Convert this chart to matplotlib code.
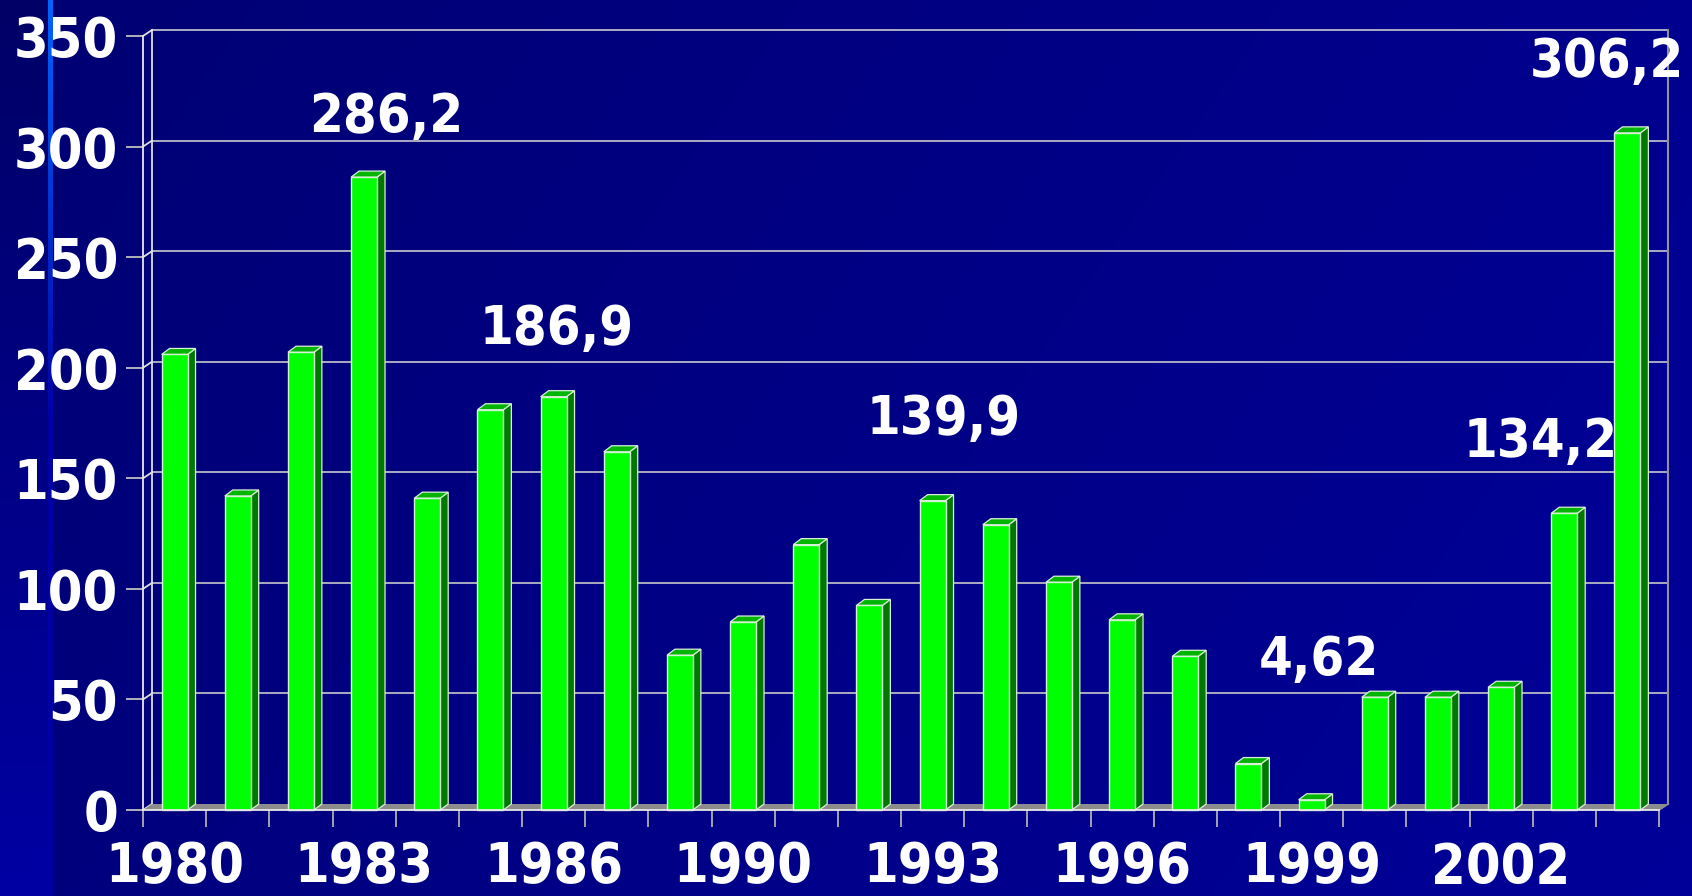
import matplotlib
matplotlib.use("Agg")
import matplotlib.pyplot as plt
from matplotlib.patches import Rectangle, Polygon
import numpy as np

# data
years = [1980, 1981, 1982, 1983, 1984, 1985, 1986, 1987,
         1989, 1990, 1991, 1992, 1993, 1994, 1995, 1996,
         1997, 1998, 1999, 2000, 2001, 2002, 2003, 2004]
values = [206, 142, 207, 286.2, 141, 181, 186.9, 162,
          70, 85, 120, 92.5, 139.9, 129, 103, 86,
          69.5, 21, 4.62, 51, 51, 55.5, 134.2, 306.2]
labelled = [3, 6, 12, 18, 22, 23]
label_texts = ["286,2", "186,9", "139,9", "4,62", "134,2", "306,2"]
label_offsets = [(22, 60), (3, 68), (11, 82), (7, 140), (-24, 71), (-20, 71)]  # pixels
yticks = [0, 50, 100, 150, 200, 250, 300, 350]

W, H, DPI = 1692, 896, 100
FONT = dict(family="DejaVu Sans", fontstretch="condensed", fontweight="bold")
fig = plt.figure(figsize=(W / DPI, H / DPI), dpi=DPI)

# background gradient
bg = fig.add_axes([0, 0, 1, 1], zorder=-10)
yy, xx = np.mgrid[0:H, 0:W]
img = np.zeros((H, W, 3))
img[..., 2] = 0.45 + 0.11 * (xx / W) + 0.04 * (yy / H)
strip = xx < 48
img[..., 2][strip] = (0.40 + 0.24 * (yy / H))[strip]
line = (xx >= 48) & (xx < 53)
t = np.clip(yy / 420.0, 0, 1)
img[..., 1][line] = (0.40 * (1 - t))[line]
img[..., 2][line] = (1.0 - 0.35 * t)[line]
bg.imshow(img, aspect="auto", extent=[0, W, H, 0])
bg.axis("off")

left, right, top, bottom = 143, 1659, 36, 810
ax = fig.add_axes([left / W, (H - bottom) / H, (right - left) / W, (bottom - top) / H])
ax.set_facecolor("none")
n = len(values)
ax.set_xlim(-0.5, n - 0.5)
ax.set_ylim(0, 350)

# pixel -> data conversions for the 3d offsets
px_x = n / (right - left)
px_y = 350 / (bottom - top)
wdx, wdy = 9 * px_x, 6 * px_y     # back wall offset
bdx, bdy = 8 * px_x, 6 * px_y     # bar depth

grid_c = "#B8B8C8"
x0, x1 = -0.5, n - 0.5
# floor
ax.add_patch(Polygon([(x0, 0), (x1, 0), (x1 + wdx, wdy), (x0 + wdx, wdy)],
                     closed=True, facecolor="#8C8C8C", edgecolor="none",
                     zorder=1, clip_on=False))
# back wall grid
for v in yticks[1:]:
    ax.plot([x0 + wdx, x1 + wdx], [v + wdy, v + wdy], color=grid_c, lw=1.3,
            zorder=0.5, clip_on=False)
for v in yticks:
    ax.plot([x0, x0 + wdx], [v, v + wdy], color="#E0E0E0", lw=1.3,
            zorder=0.5, clip_on=False)
ax.plot([x0 + wdx, x0 + wdx], [wdy, 350 + wdy], color="#E0E0E0", lw=1.3,
        zorder=0.5, clip_on=False)
ax.plot([x1 + wdx, x1 + wdx], [wdy, 350 + wdy], color="#9090A0", lw=1.5,
        zorder=0.5, clip_on=False)
ax.plot([x1, x1 + wdx], [0, wdy], color="#9090A0", lw=1.3, zorder=0.5, clip_on=False)

# 3d bars
bw = 0.41
edge = "#D8F0D8"
for i, v in enumerate(values):
    xl, xr = i - bw / 2, i + bw / 2
    ax.add_patch(Polygon([(xr, 0), (xr + bdx, bdy), (xr + bdx, v + bdy), (xr, v)],
                         closed=True, facecolor="#007800", edgecolor=edge,
                         lw=0.9, zorder=3, clip_on=False))
    ax.add_patch(Polygon([(xl, v), (xr, v), (xr + bdx, v + bdy), (xl + bdx, v + bdy)],
                         closed=True, facecolor="#00B400", edgecolor=edge,
                         lw=0.9, zorder=3, clip_on=False))
    ax.add_patch(Rectangle((xl, 0), bw, v, facecolor="#00FF00", edgecolor=edge,
                           lw=1.0, zorder=4, clip_on=False))

# value labels
for idx, txt, (ox, oy) in zip(labelled, label_texts, label_offsets):
    ax.annotate(txt, xy=(idx, values[idx]), xytext=(ox, oy), textcoords="offset pixels",
                ha="center", va="center", color="white", fontsize=39, zorder=6,
                annotation_clip=False, **FONT)

# axes styling
for s in ["top", "right"]:
    ax.spines[s].set_visible(False)
for s in ["left", "bottom"]:
    ax.spines[s].set_color("#E8E8E8")
    ax.spines[s].set_linewidth(1.3)
    ax.spines[s].set_zorder(5)

ax.set_yticks(yticks)
ax.set_yticklabels([str(v) for v in yticks])
ax.tick_params(axis="y", length=12, width=1.3, color="#C0C0C0", pad=6,
               labelcolor="white")

ax.set_xticks(range(0, n, 3))
ax.set_xticklabels([str(years[i]) for i in range(0, n, 3)])
ax.set_xticks(np.arange(-0.5, n, 1.0), minor=True)
ax.tick_params(axis="x", which="major", length=0, pad=22, labelcolor="white")
ax.tick_params(axis="x", which="minor", length=12, width=1.3, color="#B0B0B0")
for lab in ax.get_xticklabels() + ax.get_yticklabels():
    lab.set_fontsize(40)
    lab.set_fontweight("bold")
    lab.set_fontstretch("condensed")
    lab.set_family("DejaVu Sans")

fig.savefig("out.png", dpi=DPI)
